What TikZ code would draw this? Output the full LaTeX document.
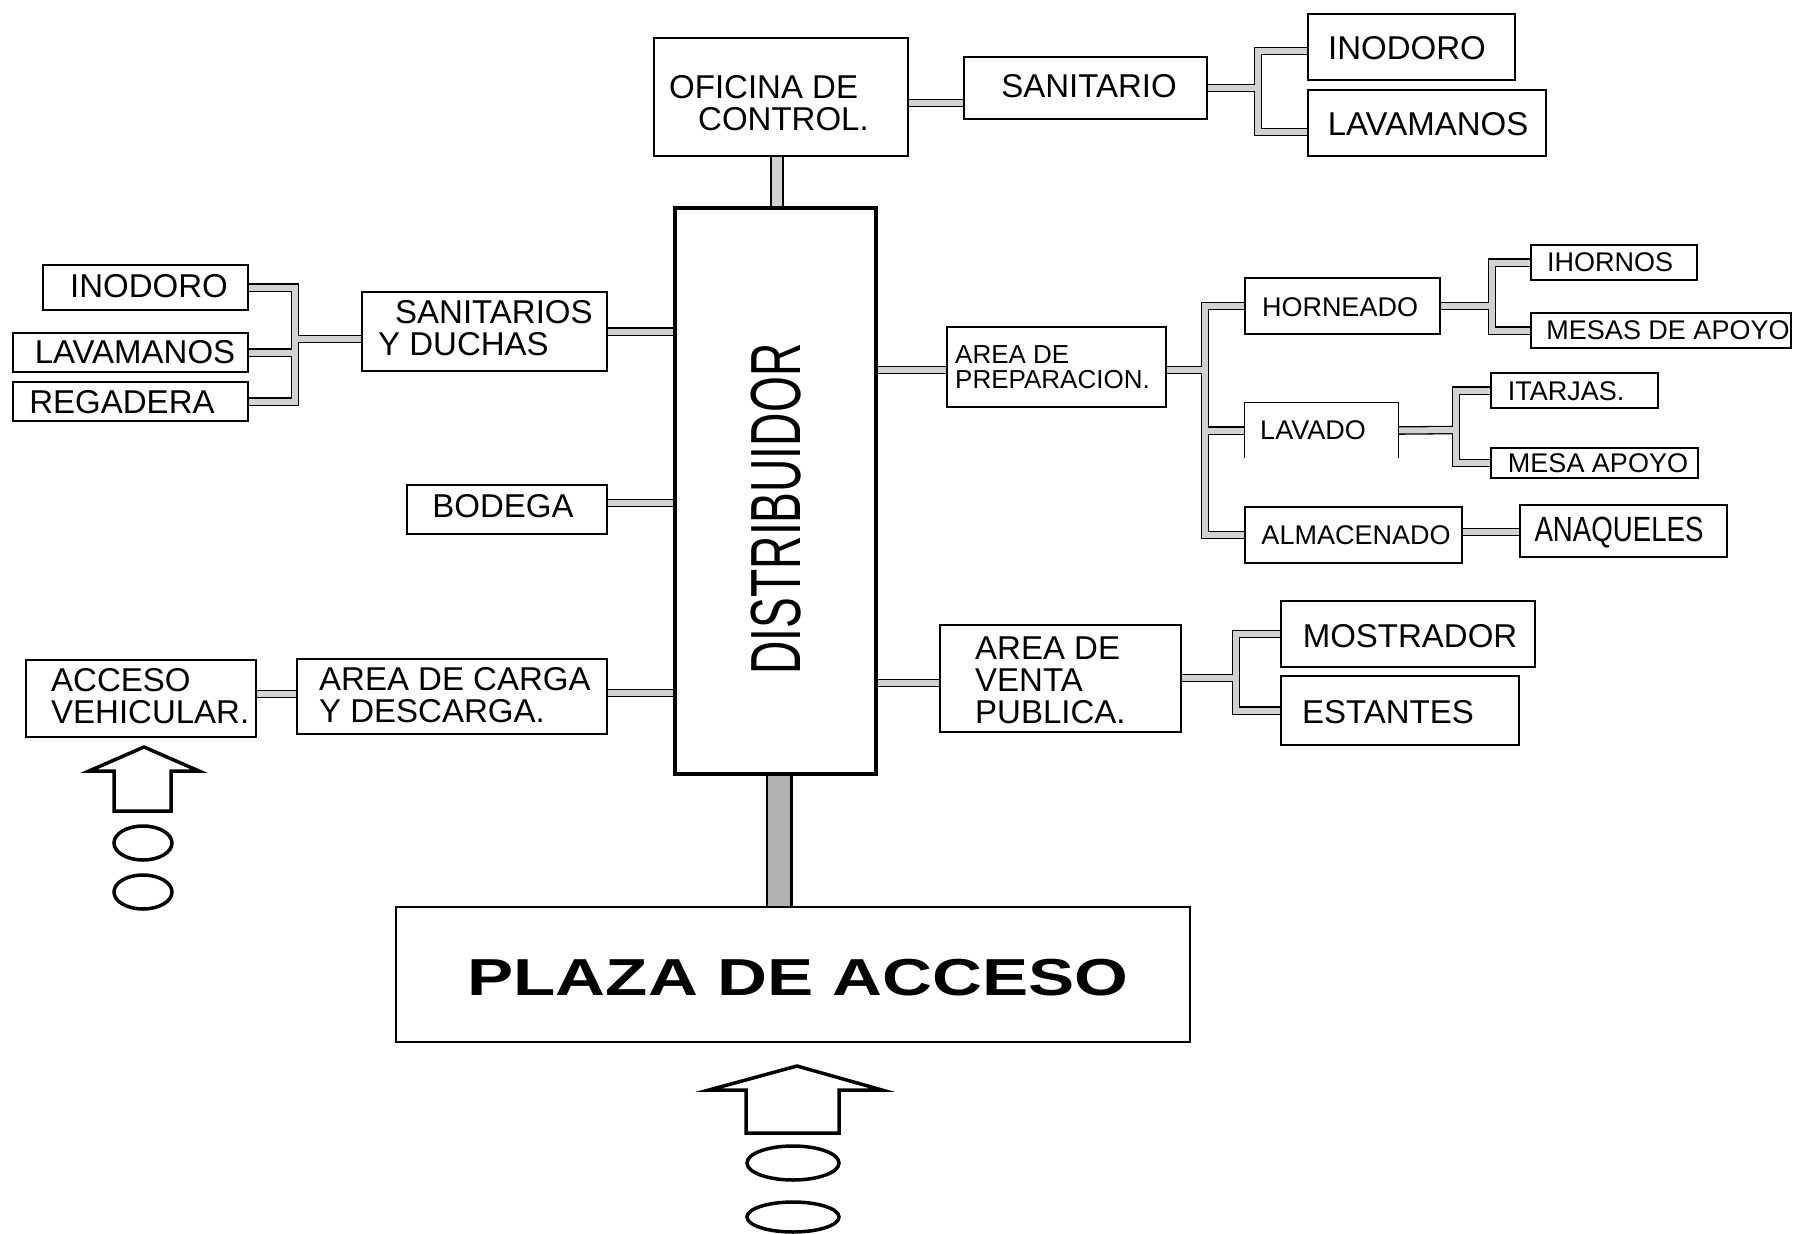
\documentclass[tikz,border=0pt]{standalone}
\usepackage{fontspec}
\setmainfont{Liberation Sans}
\usepackage{graphicx}
\pgfdeclarelayer{back}
\pgfdeclarelayer{pipes}
\pgfsetlayers{back,pipes,main}
\tikzset{
 box/.style={draw, line width=1.3pt, inner sep=0pt},
 txt/.style={inner sep=0pt, font=\fontsize{33}{32}\selectfont, align=left},
 stxt/.style={inner sep=0pt, font=\fontsize{27}{25}\selectfont, align=left},
 pipeA/.style={line width=8.6pt, draw=black, line join=miter},
 pipeB/.style={line width=6pt, draw=gray!35, line join=miter},
 arr/.style={line width=3.5pt, line join=miter},
}
\newcommand\allpipes[1]{%
\draw[#1] (ofi.east |- 0,103) -- (san.west |- 0,103);
\draw[#1] (san.east) -- (j1);
\draw[#1] (ino1.west |- 0,51) -| (j1);
\draw[#1] (lav1.west |- 0,132) -| (j1);
\draw[#1] (ino2.east) -| (j2);
\draw[#1] (lav2.east) -| (j2);
\draw[#1] (reg.east) -| (j2);
\draw[#1] (j2) -- (sandu.west |- j2);
\draw[#1] (sandu.east) -- (dist.west |- sandu.east);
\draw[#1] (bod.east |- 0,503) -- (dist.west |- 0,503);
\draw[#1] (carga.east |- 0,693) -- (dist.west |- 0,693);
\draw[#1] (acc.east |- 0,694) -- (carga.west |- 0,694);
\draw[#1] (dist.east |- 0,370) -- (prep.west |- 0,370);
\draw[#1] (prep.east |- j3) -- (j3);
\draw[#1] (horn.west) -| (j3);
\draw[#1] (lav3.west) -| (j3);
\draw[#1] (alm.west) -| (j3);
\draw[#1] (horn.east) -- (j4);
\draw[#1] (ihor.west) -| (j4);
\draw[#1] (mesas.west) -| (j4);
\draw[#1] (lav3.east) -- (j5);
\draw[#1] (itar.west) -| (j5);
\draw[#1] (mesa.west) -| (j5);
\draw[#1] (alm.east |- 0,532) -- (anaq.west |- 0,532);
\draw[#1] (dist.east |- 0,683) -- (venta.west |- 0,683);
\draw[#1] (venta.east |- j6) -- (j6);
\draw[#1] (most.west) -| (j6);
\draw[#1] (est.west) -| (j6);
}
\begin{document}
\begin{tikzpicture}[x=1pt,y=-1pt]
\begin{pgfonlayer}{back}
\fill[white] (0,0) rectangle (1794,1234);
\end{pgfonlayer}
\useasboundingbox (0,0) rectangle (1794,1234);

% boxes
\node[box, minimum width=254pt, minimum height=118pt] (ofi) at (781,97) {};
\node[box, minimum width=243pt, minimum height=62pt] (san) at (1085.5,88) {};
\node[box, minimum width=207pt, minimum height=66pt] (ino1) at (1411.5,47) {};
\node[box, minimum width=238pt, minimum height=66pt] (lav1) at (1427,123) {};
\node[draw, line width=4pt, inner sep=0pt, minimum width=201pt, minimum height=566pt] (dist) at (775.5,491) {};
\node[box, minimum width=794pt, minimum height=135pt] (plaza) at (793,974.5) {};
\node[box, minimum width=205pt, minimum height=45pt] (ino2) at (145.5,287.5) {};
\node[box, minimum width=235pt, minimum height=39pt] (lav2) at (130.5,352.5) {};
\node[box, minimum width=235pt, minimum height=39pt] (reg) at (130.5,401.5) {};
\node[box, minimum width=245pt, minimum height=79pt] (sandu) at (484.5,331.5) {};
\node[box, minimum width=200pt, minimum height=49pt] (bod) at (507,509.5) {};
\node[box, minimum width=310pt, minimum height=75pt] (carga) at (452,696.5) {};
\node[box, minimum width=230pt, minimum height=77pt] (acc) at (141,698.5) {};
\node[box, minimum width=219pt, minimum height=80pt] (prep) at (1056.5,367) {};
\node[box, minimum width=195pt, minimum height=56pt] (horn) at (1342.5,306) {};
\node[inner sep=0pt, minimum width=153pt, minimum height=55pt] (lav3) at (1321.5,430.5) {};
\draw[line width=1.3pt] (lav3.south west) -- (lav3.north west) -- (lav3.north east) -- (lav3.south east);
\node[box, minimum width=217pt, minimum height=56pt] (alm) at (1353.5,535) {};
\node[box, minimum width=207pt, minimum height=52pt] (anaq) at (1623.5,531) {};
\node[box, minimum width=166pt, minimum height=35pt] (ihor) at (1614,262.5) {};
\node[box, minimum width=260pt, minimum height=35pt] (mesas) at (1661,330.5) {};
\node[box, minimum width=167pt, minimum height=35pt] (itar) at (1574.5,390.5) {};
\node[box, minimum width=207pt, minimum height=30pt] (mesa) at (1594.5,463) {};
\node[box, minimum width=241pt, minimum height=107pt] (venta) at (1060.5,678.5) {};
\node[box, minimum width=254pt, minimum height=66pt] (most) at (1408,634) {};
\node[box, minimum width=238pt, minimum height=69pt] (est) at (1400,710.5) {};

% junctions
\coordinate (j1) at (1258,88);
\coordinate (j2) at (295,339);
\coordinate (j3) at (1205,370);
\coordinate (j4) at (1492,306);
\coordinate (j5) at (1456,430);
\coordinate (j6) at (1236,678);

% texts
\node[txt, anchor=west] (ofiT) at (669,103) {OFICINA DE\\\hspace*{29pt}CONTROL.};
\node[txt] (sanT) at (1089,86) {SANITARIO};
\node[txt] (ino1T) at (1407,48) {INODORO};
\node[txt] (lav1T) at (1428,124) {LAVAMANOS};
\node[inner sep=0pt, rotate=90, font=\fontsize{71}{71}\selectfont] (distT) at (776,509) {\scalebox{0.65}[1]{DISTRIBUIDOR}};
\node[inner sep=0pt, font=\fontsize{52}{52}\selectfont\bfseries] (plazaT) at (798,978) {\scalebox{1.33}[1]{PLAZA DE ACCESO}};
\node[txt] (ino2T) at (149,286) {INODORO};
\node[txt] (lav2T) at (135,352) {LAVAMANOS};
\node[txt] (regT) at (122,402) {REGADERA};
\node[txt, anchor=west] (sanduT) at (378,328.5) {\hspace*{17pt}SANITARIOS\\Y DUCHAS};
\node[txt] (bodT) at (503,506) {BODEGA};
\node[txt, anchor=west] (cargaT) at (319,695) {AREA DE CARGA\\Y DESCARGA.};
\node[txt, anchor=west] (accT) at (51,696.5) {ACCESO\\VEHICULAR.};
\node[inner sep=0pt, font=\fontsize{26}{25}\selectfont, align=left, anchor=west] (prepT) at (955,367.5) {AREA DE\\PREPARACION.};
\node[stxt] (hornT) at (1340,307) {HORNEADO};
\node[stxt] (lav3T) at (1313,430) {LAVADO};
\node[stxt] (almT) at (1356,535) {ALMACENADO};
\node[inner sep=0pt, font=\fontsize{35}{35}\selectfont] (anaqT) at (1619,533) {\scalebox{0.79}[1]{ANAQUELES}};
\node[stxt] (ihorT) at (1610,262) {IHORNOS};
\node[stxt] (mesasT) at (1668,330) {MESAS DE APOYO};
\node[stxt] (itarT) at (1566,391) {ITARJAS.};
\node[stxt] (mesaT) at (1598,463) {MESA APOYO};
\node[txt, anchor=west] (ventaT) at (975,680) {AREA DE\\VENTA\\PUBLICA.};
\node[txt] (mostT) at (1410,636) {MOSTRADOR};
\node[txt] (estT) at (1388,712) {ESTANTES};

% pipes
\begin{pgfonlayer}{pipes}
\allpipes{pipeA}
\allpipes{pipeB}
\draw[line width=14pt] (ofi.south -| 777,0) -- (dist.north -| 777,0);
\draw[line width=10pt, gray!35] (ofi.south -| 777,0) -- (dist.north -| 777,0);
\draw[line width=27pt] (dist.south -| 779,0) -- (plaza.north -| 779,0);
\draw[line width=22pt, gray!60] (dist.south -| 779,0) -- (plaza.north -| 779,0);
\end{pgfonlayer}

% access arrows and marks
\draw[arr] (797,1066) -- (882,1090) -- (839,1090) -- (839,1133) -- (746,1133) -- (746,1090) -- (709,1090) -- cycle;
\draw[line width=3.5pt] (793,1163) ellipse [x radius=46pt, y radius=17pt];
\draw[line width=3.5pt] (793,1217) ellipse [x radius=46pt, y radius=15pt];
\draw[arr] (144,747) -- (199,771) -- (171,771) -- (171,811) -- (114,811) -- (114,771) -- (89,771) -- cycle;
\draw[line width=3.5pt] (143,843) ellipse [x radius=29pt, y radius=17pt];
\draw[line width=3.5pt] (143,892) ellipse [x radius=29pt, y radius=17pt];
\end{tikzpicture}
\end{document}
